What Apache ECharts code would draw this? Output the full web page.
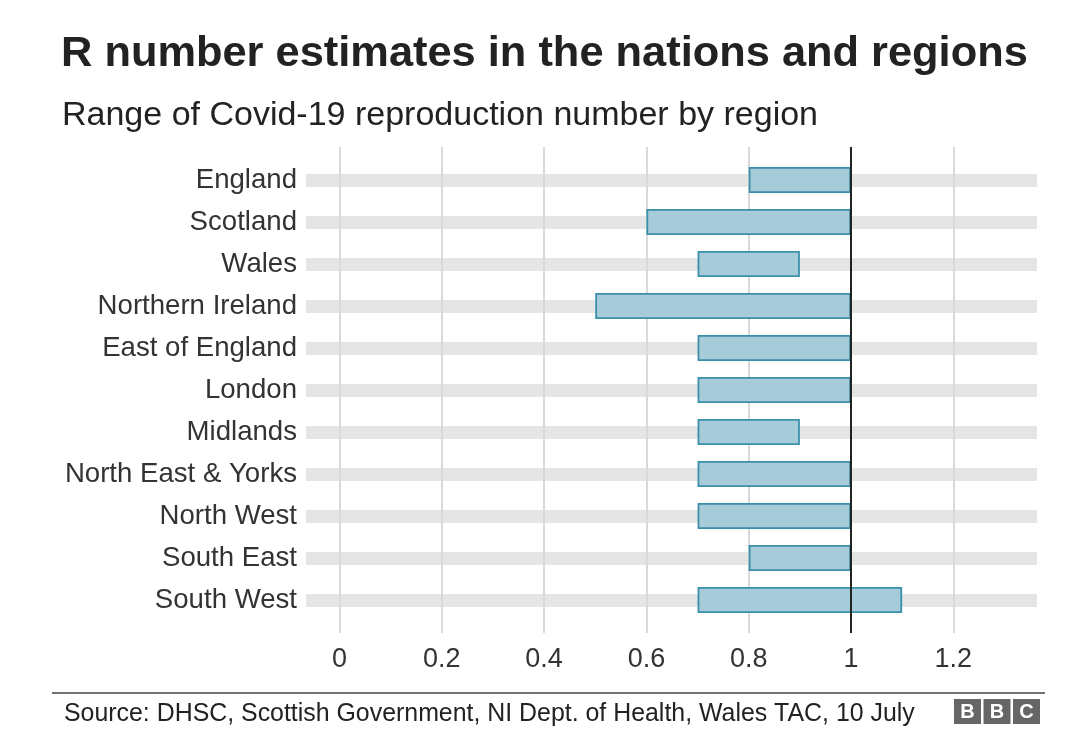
<!DOCTYPE html>
<html>
<head>
<meta charset="utf-8">
<script src="https://cdn.jsdelivr.net/npm/echarts@6/dist/echarts.min.js"></script>
<style>html,body{margin:0;padding:0;background:#fff;}#chart{width:1080px;height:747px;}</style>
</head>
<body>
<div id="chart"></div>
<script>
const titleText = 'R number estimates in the nations and regions';
const subtitleText = 'Range of Covid-19 reproduction number by region';
const sourceText = 'Source: DHSC, Scottish Government, NI Dept. of Health, Wales TAC, 10 July';
const regions = ['England', 'Scotland', 'Wales', 'Northern Ireland', 'East of England', 'London', 'Midlands', 'North East & Yorks', 'North West', 'South East', 'South West'];
const rLow  = [0.8, 0.6, 0.7, 0.5, 0.7, 0.7, 0.7, 0.7, 0.7, 0.8, 0.7];
const rHigh = [1.0, 1.0, 0.9, 1.0, 1.0, 1.0, 0.9, 1.0, 1.0, 1.0, 1.1];
const xTicks = [0, 0.2, 0.4, 0.6, 0.8, 1, 1.2];
const referenceR = 1;

const FONT = "'Liberation Sans', Arial, Helvetica, sans-serif";
const rangeSpan = rHigh.map((h, i) => +(h - rLow[i]).toFixed(4));

const chart = echarts.init(document.getElementById('chart'), null, {renderer: 'canvas'});
const option = {
  backgroundColor: '#fff',
  animation: false,
  textStyle: {fontFamily: FONT},
  title: [
    {text: titleText, left: 56, top: 28, textStyle: {fontFamily: FONT, fontSize: 43.4, fontWeight: 'bold', color: '#222'}},
    {text: subtitleText, left: 57, top: 94, textStyle: {fontFamily: FONT, fontSize: 34, fontWeight: 'normal', color: '#222'}}
  ],
  grid: [
    {left: 237.2, right: 24.4, top: 147, bottom: 114},
    {left: 237.2, right: 24.4, top: 159, bottom: 126},
    {left: 306, right: 43, top: 180, bottom: 147}
  ],
  xAxis: [
    {
      gridIndex: 0, type: 'value', min: -0.2, max: 1.4, interval: 0.2, z: 1,
      axisLine: {show: false}, axisTick: {show: false},
      splitLine: {show: true, showMinLine: false, showMaxLine: false, lineStyle: {color: '#d9d9d9', width: 2}},
      axisLabel: {
        margin: 13, fontSize: 27, color: '#333', fontFamily: FONT,
        formatter: function (v) {
          const r = Math.round(v * 10) / 10;
          return xTicks.indexOf(r) >= 0 ? String(r) : '';
        }
      }
    },
    {gridIndex: 1, type: 'value', min: -0.2, max: 1.4, show: false},
    {gridIndex: 2, type: 'value', min: 0, max: 1, show: false}
  ],
  yAxis: [
    {gridIndex: 0, type: 'value', min: 0, max: 1, show: false},
    {gridIndex: 1, type: 'category', data: regions, inverse: true, show: false},
    {
      gridIndex: 2, type: 'category', data: regions, inverse: true, boundaryGap: false, z: 0,
      axisLine: {show: false}, axisTick: {show: false},
      axisLabel: {margin: 9, fontSize: 27.6, color: '#333', fontFamily: FONT, padding: [9, 0, 0, 0]},
      splitLine: {show: true, lineStyle: {color: '#e5e5e5', width: 13}}
    }
  ],
  series: [
    {
      type: 'line', xAxisIndex: 0, yAxisIndex: 0, data: [], z: 10, silent: true,
      markLine: {
        symbol: 'none', silent: true, label: {show: false},
        lineStyle: {color: '#222', width: 2, type: 'solid'},
        data: [{xAxis: referenceR}]
      }
    },
    {
      name: 'base', type: 'bar', xAxisIndex: 1, yAxisIndex: 1, stack: 'r', barWidth: 26,
      itemStyle: {color: 'rgba(0,0,0,0)'}, data: rLow, silent: true
    },
    {
      name: 'range', type: 'bar', xAxisIndex: 1, yAxisIndex: 1, stack: 'r', barWidth: 26,
      itemStyle: {color: '#a6cbd9', borderColor: '#3a8fa9', borderWidth: 1.8}, data: rangeSpan
    }
  ],
  graphic: [
    {type: 'line', shape: {x1: 52, y1: 693, x2: 1045, y2: 693}, style: {stroke: '#444', lineWidth: 1.5}},
    {type: 'text', left: 64, top: 702, style: {text: sourceText, font: '24.9px ' + FONT, fill: '#222'}},
    {type: 'group', left: 954, top: 699, children: [
      {type: 'rect', shape: {x: 0, y: 0, width: 27, height: 25}, style: {fill: '#666'}},
      {type: 'rect', shape: {x: 29.5, y: 0, width: 27, height: 25}, style: {fill: '#666'}},
      {type: 'rect', shape: {x: 59, y: 0, width: 27, height: 25}, style: {fill: '#666'}},
      {type: 'text', x: 13.5, y: 13, style: {text: 'B', font: 'bold 20px ' + FONT, fill: '#fff', align: 'center', verticalAlign: 'middle'}},
      {type: 'text', x: 43, y: 13, style: {text: 'B', font: 'bold 20px ' + FONT, fill: '#fff', align: 'center', verticalAlign: 'middle'}},
      {type: 'text', x: 72.5, y: 13, style: {text: 'C', font: 'bold 20px ' + FONT, fill: '#fff', align: 'center', verticalAlign: 'middle'}}
    ]}
  ]
};
chart.setOption(option);
</script>
</body>
</html>
